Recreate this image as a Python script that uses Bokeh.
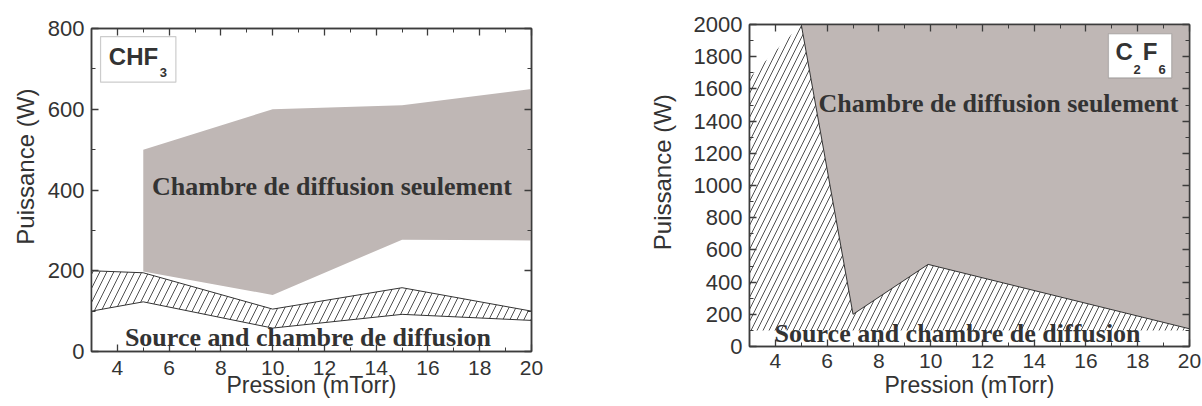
from bokeh.plotting import figure
from bokeh.layouts import row
from bokeh.models import Range1d, LinearAxis, SingleIntervalTicker, Label, BoxAnnotation
from bokeh.embed import file_html
from bokeh.resources import INLINE

# ---------------- data ----------------
# CHF3 panel
chf3_gray_p = [5, 10, 15, 20]
chf3_gray_top = [500, 600, 610, 650]
chf3_gray_bottom = [198, 140, 277, 275]
chf3_band_p = [3, 5, 10, 15, 20]
chf3_band_top = [200, 195, 105, 158, 100]
chf3_band_bottom = [100, 123, 58, 92, 77]

# C2F6 panel
c2f6_edge_p = [5, 7, 9.9, 20]
c2f6_edge_w = [2000, 200, 510, 110]
c2f6_corner_p = [3, 5]
c2f6_corner_w = [1670, 2000]
c2f6_floor_w = 100

x_range = (3, 20)
chf3_ymax = 800
c2f6_ymax = 2000

label_zone_top = "Chambre de diffusion seulement"
label_zone_bottom = "Source and chambre de diffusion"
x_title = "Pression (mTorr)"
y_title = "Puissance (W)"

# ---------------- style ----------------
GRAY = "#bfb7b5"
AX = "#3c3c3c"
TXT = "#333333"
SANS = "Liberation Sans"
SERIF = "Liberation Serif"
NB = "\u00a0"


def make_fig(width, ymax, mb_left, mb_right, mb_top, mb_bottom,
             x_standoff, x_title_standoff, y_title_standoff, y_title_shift):
    p = figure(width=width, height=406, output_backend="svg", toolbar_location=None,
               title=None,
               x_range=Range1d(*x_range), y_range=Range1d(0, ymax),
               min_border_left=mb_left, min_border_right=mb_right,
               min_border_top=mb_top, min_border_bottom=mb_bottom)
    p.frame_align = False
    p.xgrid.visible = False
    p.ygrid.visible = False
    p.outline_line_color = AX
    p.outline_line_width = 1.5
    p.background_fill_color = "white"
    p.border_fill_color = "white"

    bottom_ax = p.below[0]
    left_ax = p.left[0]
    top_ax = LinearAxis()
    right_ax = LinearAxis()
    p.add_layout(top_ax, "above")
    p.add_layout(right_ax, "right")

    for ax in [bottom_ax, top_ax]:
        ax.ticker = SingleIntervalTicker(interval=2, num_minor_ticks=2)
    for ax in [left_ax, right_ax]:
        ax.ticker = SingleIntervalTicker(interval=200, num_minor_ticks=2)

    for ax in [bottom_ax, left_ax, top_ax, right_ax]:
        ax.axis_line_color = AX
        ax.axis_line_width = 1.5
        ax.major_tick_in = 7
        ax.major_tick_out = 0
        ax.minor_tick_in = 4
        ax.minor_tick_out = 0
        ax.major_tick_line_color = AX
        ax.minor_tick_line_color = AX
        ax.major_tick_line_width = 1.3
        ax.minor_tick_line_width = 1.0
        ax.major_label_text_font = SANS
        ax.major_label_text_font_size = "22px"
        ax.major_label_text_color = TXT
        ax.axis_label_text_font = SANS
        ax.axis_label_text_font_size = "24px"
        ax.axis_label_text_font_style = "normal"
        ax.axis_label_text_color = TXT
    # mirrored frame axes: ticks only, no labels
    for ax in [top_ax, right_ax]:
        ax.major_label_text_font_size = "1px"
        ax.major_label_text_color = None
        ax.major_label_text_alpha = 0
        ax.major_label_standoff = 0

    bottom_ax.major_label_text_font_size = "21px"
    bottom_ax.axis_label_text_font_size = "23px"
    bottom_ax.major_label_standoff = x_standoff
    bottom_ax.axis_label = x_title
    bottom_ax.axis_label_standoff = x_title_standoff
    left_ax.major_label_standoff = 7
    left_ax.axis_label = NB * y_title_shift + y_title
    left_ax.axis_label_standoff = y_title_standoff
    return p


def add_text(p, x, y, text, font, size, style="normal", align="center"):
    p.add_layout(Label(x=x, y=y, text=text, text_font=font, text_font_size=size,
                       text_font_style=style, text_color=TXT, text_align=align,
                       text_baseline="middle"))


# ---------------- CHF3 ----------------
p1 = make_fig(600, chf3_ymax, 91, 69, 28, 55, 9, -6, 6, 7)
p1.varea(x=chf3_gray_p, y1=chf3_gray_bottom, y2=chf3_gray_top,
         fill_color=GRAY, fill_alpha=1.0)
p1.varea(x=chf3_band_p, y1=chf3_band_bottom, y2=chf3_band_top,
         fill_color="white", fill_alpha=1.0, hatch_pattern="/",
         hatch_color="#222222", hatch_scale=14, hatch_weight=0.8)
p1.line(chf3_band_p, chf3_band_top, line_color="#333333", line_width=1)
p1.line(chf3_band_p, chf3_band_bottom, line_color="#333333", line_width=1)

add_text(p1, 12.29, 409, label_zone_top, SERIF, "26px", "bold")
add_text(p1, 11.36, 35, label_zone_bottom, SERIF, "26px", "bold")

p1.add_layout(BoxAnnotation(left=3.35, right=6.26, bottom=667, top=780,
                            fill_color="white", fill_alpha=1.0,
                            line_color="#555555", line_width=1.2))
add_text(p1, 3.67, 730, "CHF", SANS, "24px", "bold", align="left")
add_text(p1, 5.64, 691, "3", SANS, "13px", "bold", align="left")

# ---------------- C2F6 ----------------
p2 = make_fig(602, c2f6_ymax, 149, 13, 24, 60, 7, 1, 15, 4)
hatch_x = [x_range[0]] + c2f6_corner_p + c2f6_edge_p[1:] + [x_range[1]]
hatch_y = [c2f6_floor_w] + c2f6_corner_w + c2f6_edge_w[1:] + [c2f6_floor_w]
p2.patch(hatch_x, hatch_y, fill_color="white", fill_alpha=1.0, line_color=None,
         hatch_pattern="/", hatch_color="#222222", hatch_scale=12, hatch_weight=0.8)
gray_x = c2f6_edge_p + [x_range[1]]
gray_y = c2f6_edge_w + [c2f6_ymax]
p2.patch(gray_x, gray_y, fill_color=GRAY, fill_alpha=1.0, line_color=None)
p2.line(c2f6_edge_p, c2f6_edge_w, line_color="#333333", line_width=1)

add_text(p2, 12.62, 1512, label_zone_top, SERIF, "26px", "bold")
add_text(p2, 11.04, 82, label_zone_bottom, SERIF, "26px", "bold")

p2.add_layout(BoxAnnotation(left=16.87, right=19.31, bottom=1669, top=1942,
                            fill_color="white", fill_alpha=1.0,
                            line_color="#555555", line_width=1.2))
add_text(p2, 17.14, 1830, "C", SANS, "24px", "bold", align="left")
add_text(p2, 17.84, 1722, "2", SANS, "13px", "bold", align="left")
add_text(p2, 18.19, 1830, "F", SANS, "24px", "bold", align="left")
add_text(p2, 18.80, 1722, "6", SANS, "13px", "bold", align="left")

layout = row(p1, p2)
open("out.html", "w").write(file_html(layout, INLINE))
